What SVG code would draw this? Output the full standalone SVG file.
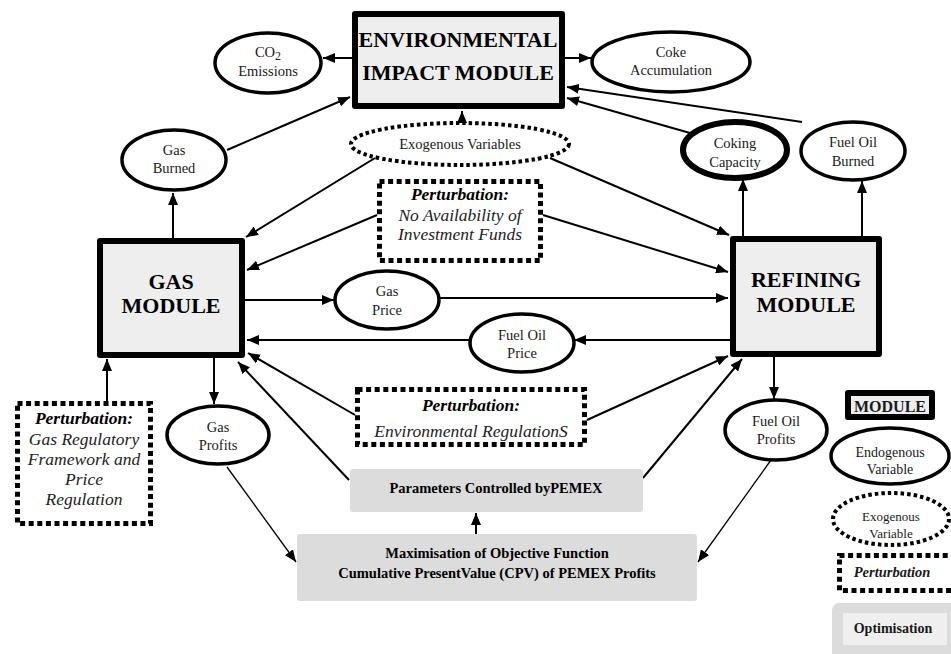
<svg xmlns="http://www.w3.org/2000/svg" width="951" height="654" viewBox="0 0 951 654" font-family="'Liberation Serif', 'Times New Roman', Tinos, Times, serif">
<defs>
<marker id="ah" markerUnits="userSpaceOnUse" markerWidth="12" markerHeight="10" refX="12" refY="5" orient="auto">
<path d="M0,0 L12,5 L0,10 z" fill="#000"/>
</marker>
<style>
.mod{fill:#eeeeee;stroke:#000;stroke-width:6;stroke-linejoin:round}
.end{fill:#fff;stroke:#000;stroke-width:3.5}
.endk{fill:#fff;stroke:#000;stroke-width:6}
.exo{fill:#fff;stroke:#000;stroke-width:4;stroke-dasharray:3.5 3}
.per{fill:#fff;stroke:#000;stroke-width:5;stroke-dasharray:5 3.6}
.opt{fill:#dcdcdc;stroke:none}
.c{fill:none;stroke:#000;stroke-width:2}
.ct{fill:none;stroke:#000;stroke-width:1.3}
.a{marker-end:url(#ah)}
text{text-anchor:middle;fill:#1a1a1a}
.big{font-size:22px;font-weight:bold;fill:#000}
.v{font-size:14.5px}
.pb{font-size:17.5px;font-weight:bold;font-style:italic;fill:#000}
.pi{font-size:17.5px;font-style:italic;fill:#222}
.ob{font-size:14.5px;font-weight:bold;fill:#000}
</style>
</defs>

<g id="connectors">
<line class="c a" x1="352" y1="58" x2="323" y2="58"/>
<line class="c a" x1="565" y1="58" x2="591" y2="58"/>
<line class="c a" x1="227" y1="150" x2="350" y2="97"/>
<line class="c a" x1="462" y1="123" x2="462" y2="111"/>
<line class="c a" x1="690" y1="133" x2="567" y2="98"/>
<line class="c a" x1="802" y1="122" x2="567" y2="87"/>
<line class="c a" x1="173" y1="238" x2="173" y2="193"/>
<line class="c a" x1="375" y1="158" x2="246" y2="237"/>
<line class="c a" x1="550" y1="158" x2="729" y2="235"/>
<line class="c a" x1="377" y1="215" x2="247" y2="270"/>
<line class="c a" x1="543" y1="215" x2="728" y2="272"/>
<line class="c a" x1="245" y1="300" x2="334" y2="300"/>
<line class="c a" x1="439" y1="298" x2="728" y2="298"/>
<line class="c a" x1="730" y1="340" x2="574" y2="340"/>
<line class="c a" x1="470" y1="340" x2="247" y2="340"/>
<line class="c a" x1="355" y1="415" x2="248" y2="353"/>
<line class="c a" x1="349" y1="480" x2="238" y2="362"/>
<line class="c a" x1="587" y1="420" x2="728" y2="356"/>
<line class="c a" x1="643" y1="478" x2="742" y2="359"/>
<line class="c a" x1="214" y1="358" x2="214" y2="404"/>
<line class="c a" x1="774" y1="357" x2="774" y2="399"/>
<line class="c a" x1="107" y1="401" x2="107" y2="359"/>
<line class="ct a" x1="227" y1="467" x2="296" y2="562"/>
<line class="ct a" x1="771" y1="460" x2="698" y2="562"/>
<line class="c a" x1="476" y1="534" x2="476" y2="513"/>
<line class="c a" x1="743" y1="236" x2="743" y2="179"/>
<line class="c a" x1="862" y1="236" x2="862" y2="181"/>
</g>

<g id="env-module">
<rect class="mod" x="355" y="14" width="207" height="92"/>
<text class="big" x="458" y="47">ENVIRONMENTAL</text>
<text class="big" x="458" y="80">IMPACT MODULE</text>
</g>

<g id="co2">
<ellipse class="end" cx="268" cy="63" rx="53" ry="30"/>
<text class="v" x="268" y="57">CO<tspan font-size="12" dy="3">2</tspan></text>
<text class="v" x="268" y="76">Emissions</text>
</g>

<g id="coke">
<ellipse class="end" cx="671" cy="62" rx="79" ry="30"/>
<text class="v" x="671" y="57">Coke</text>
<text class="v" x="671" y="75">Accumulation</text>
</g>

<g id="gas-burned">
<ellipse class="end" cx="174" cy="160" rx="52" ry="30"/>
<text class="v" x="174" y="155">Gas</text>
<text class="v" x="174" y="173">Burned</text>
</g>

<g id="exogenous">
<ellipse class="exo" cx="460" cy="144" rx="109" ry="21"/>
<text class="v" x="460" y="149" font-size="15">Exogenous Variables</text>
</g>

<g id="coking">
<ellipse class="endk" cx="735" cy="150" rx="52" ry="28"/>
<text class="v" x="735" y="148">Coking</text>
<text class="v" x="735" y="167">Capacity</text>
</g>

<g id="fuel-oil-burned">
<ellipse class="end" cx="853" cy="151" rx="52" ry="29"/>
<text class="v" x="853" y="147">Fuel Oil</text>
<text class="v" x="853" y="166">Burned</text>
</g>

<g id="pert-funds">
<rect class="per" x="379.5" y="181.5" width="161" height="79"/>
<text class="pb" x="460" y="200">Perturbation:</text>
<text class="pi" x="460" y="221">No Availability of</text>
<text class="pi" x="460" y="240">Investment Funds</text>
</g>

<g id="gas-module">
<rect class="mod" x="100" y="241" width="142" height="114"/>
<text class="big" x="171" y="289">GAS</text>
<text class="big" x="171" y="313">MODULE</text>
</g>

<g id="refining-module">
<rect class="mod" x="733" y="239" width="146" height="115"/>
<text class="big" x="806" y="287">REFINING</text>
<text class="big" x="806" y="312">MODULE</text>
</g>

<g id="gas-price">
<ellipse class="end" cx="387" cy="300" rx="52" ry="29"/>
<text class="v" x="387" y="296">Gas</text>
<text class="v" x="387" y="315">Price</text>
</g>

<g id="fuel-oil-price">
<ellipse class="end" cx="522" cy="343" rx="52" ry="29"/>
<text class="v" x="522" y="340">Fuel Oil</text>
<text class="v" x="522" y="358">Price</text>
</g>

<g id="pert-env">
<rect class="per" x="357.5" y="389.5" width="227" height="55"/>
<text class="pb" x="471" y="411">Perturbation:</text>
<text class="pi" x="471" y="437">Environmental RegulationS</text>
</g>

<g id="pert-gas">
<rect class="per" x="17.5" y="403.5" width="133" height="120"/>
<text class="pb" x="84" y="424">Perturbation:</text>
<text class="pi" x="84" y="445">Gas Regulatory</text>
<text class="pi" x="84" y="465">Framework and</text>
<text class="pi" x="84" y="485">Price</text>
<text class="pi" x="84" y="505">Regulation</text>
</g>

<g id="gas-profits">
<ellipse class="end" cx="218" cy="435" rx="51" ry="29"/>
<text class="v" x="218" y="432">Gas</text>
<text class="v" x="218" y="450">Profits</text>
</g>

<g id="fuel-oil-profits">
<ellipse class="end" cx="776" cy="430" rx="51" ry="30"/>
<text class="v" x="776" y="426">Fuel Oil</text>
<text class="v" x="776" y="444">Profits</text>
</g>

<g id="parameters">
<rect class="opt" x="350" y="469" width="293" height="43" rx="3"/>
<text class="ob" x="496" y="493">Parameters Controlled byPEMEX</text>
</g>

<g id="maximisation">
<rect class="opt" x="297" y="534" width="400" height="67" rx="3"/>
<text class="ob" x="497" y="558">Maximisation of Objective Function</text>
<text class="ob" x="497" y="578">Cumulative PresentValue (CPV) of PEMEX Profits</text>
</g>

<g id="legend">
<g id="legend-module">
<rect class="mod" x="848" y="393" width="84" height="24"/>
<text x="890" y="412" font-size="16" font-weight="bold" fill="#000">MODULE</text>
</g>
<g id="legend-endogenous">
<ellipse class="end" cx="890" cy="456" rx="59" ry="28"/>
<text x="890" y="457" font-size="14">Endogenous</text>
<text x="890" y="474" font-size="14">Variable</text>
</g>
<g id="legend-exogenous">
<ellipse class="exo" cx="891" cy="519" rx="58" ry="26"/>
<text x="891" y="521" font-size="13">Exogenous</text>
<text x="891" y="538" font-size="13">Variable</text>
</g>
<g id="legend-perturbation">
<rect class="per" x="839.5" y="555.5" width="120" height="35"/>
<text x="892" y="577" font-size="14.5" font-weight="bold" font-style="italic" fill="#000">Perturbation</text>
</g>
<g id="legend-optimisation">
<rect class="opt" x="832" y="603" width="130" height="60" rx="7"/>
<rect x="843" y="613" width="104" height="32" fill="#efefef"/>
<text x="893" y="633" font-size="14" font-weight="bold" fill="#000">Optimisation</text>
</g>
</g>
</svg>
